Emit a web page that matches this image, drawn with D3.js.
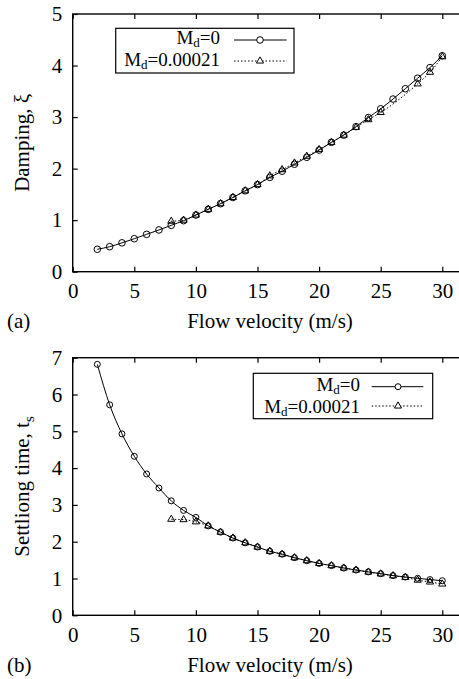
<!DOCTYPE html>
<html>
<head>
<meta charset="utf-8">
<script src="https://cdn.jsdelivr.net/npm/d3@7"></script>
<style>
  body { margin: 0; background: #fff; }
  svg { display: block; }
</style>
</head>
<body>
<svg id="chart"></svg>
<script>
// flow velocity (m/s) for the Md=0 runs
const velocity = [2, 3, 4, 5, 6, 7, 8, 9, 10, 11, 12, 13, 14, 15, 16, 17, 18, 19, 20, 21, 22, 23, 24, 25, 26, 27, 28, 29, 30];
const dampingMd0 = [0.435, 0.485, 0.56, 0.64, 0.725, 0.81, 0.90, 0.99, 1.10, 1.21, 1.32, 1.44, 1.57, 1.69, 1.83, 1.95, 2.085, 2.22, 2.36, 2.51, 2.65, 2.815, 2.99, 3.16, 3.35, 3.55, 3.755, 3.96, 4.19];
const settlingMd0 = [6.82, 5.72, 4.93, 4.32, 3.84, 3.46, 3.11, 2.85, 2.66, 2.43, 2.26, 2.10, 1.97, 1.855, 1.74, 1.66, 1.565, 1.485, 1.41, 1.35, 1.285, 1.23, 1.18, 1.13, 1.08, 1.04, 1.005, 0.97, 0.94];

// Md=0.00021 runs
const velocityDampMd1 = [8, 9, 10, 11, 12, 13, 14, 15, 16, 17, 18, 19, 20, 21, 22, 23, 24, 25, 28, 29, 30];
const dampingMd1 = [0.98, 1.0, 1.1, 1.21, 1.32, 1.44, 1.57, 1.69, 1.86, 1.98, 2.11, 2.24, 2.37, 2.51, 2.65, 2.80, 2.95, 3.09, 3.645, 3.87, 4.17];
const velocitySetMd1 = [8, 9, 10, 11, 12, 13, 14, 15, 16, 17, 18, 19, 20, 21, 22, 23, 24, 25, 26, 27, 28, 29, 30];
const settlingMd1 = [2.61, 2.60, 2.54, 2.43, 2.26, 2.10, 1.97, 1.855, 1.74, 1.66, 1.565, 1.485, 1.41, 1.35, 1.285, 1.23, 1.175, 1.125, 1.075, 1.03, 0.955, 0.905, 0.85];

const xTicks = [0, 5, 10, 15, 20, 25, 30];
const dampingTicks = [0, 1, 2, 3, 4, 5];
const settlingTicks = [0, 1, 2, 3, 4, 5, 6, 7];
const legendZero = {main: "M", sub: "d", rest: "=0"};
const legendOne = {main: "M", sub: "d", rest: "=0.00021"};

const font = "'Liberation Serif', 'Times New Roman', serif";
const style = ({
    width: 459,
    height: 679,
    left: 72.7,
    right: 467,
    axisEnd: 442.3,
    tick: 5,
    frame: 1.4,
    fontSize: 21,
    legendSize: 19
});

const panels = [
    {
        top: 14, bottom: 271.7, yMax: 5, yTicks: dampingTicks,
        md0: velocity.map((v, i) => ({x: v, y: dampingMd0[i]})),
        md1: velocityDampMd1.map((v, i) => ({x: v, y: dampingMd1[i]})),
        ylabel: {main: "Damping, ξ", sub: ""},
        tag: "(a)", labelY: 328, r: 3.3,
        legend: {x0: 115.7, x1: 294, y0: 28.3, y1: 73, textEnd: 220, base: [44, 66], lineX: [234, 286.7], lineY: [40, 61], mark: 260}
    },
    {
        top: 357.7, bottom: 615.3, yMax: 7, yTicks: settlingTicks,
        md0: velocity.map((v, i) => ({x: v, y: settlingMd0[i]})),
        md1: velocitySetMd1.map((v, i) => ({x: v, y: settlingMd1[i]})),
        ylabel: {main: "Settliong time, t", sub: "s"},
        tag: "(b)", labelY: 672, r: 3,
        legend: {x0: 253.3, x1: 432.7, y0: 373.3, y1: 418.7, textEnd: 360, base: [391.2, 413.2], lineX: [371.7, 423.3], lineY: [386.7, 406], mark: 398}
    }
];

const svg = d3.select("#chart")
    .attr("width", style.width)
    .attr("height", style.height)
    .attr("viewBox", [0, 0, style.width, style.height]);

const triangle = d3.symbol(d3.symbolTriangle).size(22);
const fmt = d3.format("d");

const mLabel = (g, parts, x, y, size) => {
    const t = g.append("text")
        .attr("x", x)
        .attr("y", y)
        .attr("text-anchor", "end")
        .style("font", `${size}px ${font}`)
        .style("fill", "#000");
    t.append("tspan").text(parts.main);
    t.append("tspan").attr("dy", 3).style("font-size", `${Math.round(size * 0.7)}px`).text(parts.sub);
    t.append("tspan").attr("dy", -3).text(parts.rest);
};

panels.forEach(p => {
    const x = d3.scaleLinear().domain([0, 30]).range([style.left, style.axisEnd]);
    const y = d3.scaleLinear().domain([0, p.yMax]).range([p.bottom, p.top]);
    const g = svg.append("g");

    // axes, ticks pointing inward
    g.append("g")
        .attr("transform", `translate(0,${p.bottom})`)
        .call(d3.axisBottom(x).tickValues(xTicks).tickFormat(fmt).tickSizeInner(-style.tick).tickSizeOuter(0).tickPadding(11.4))
        .call(a => a.select(".domain").remove());
    g.append("g")
        .attr("transform", `translate(0,${p.top})`)
        .call(d3.axisTop(x).tickValues(xTicks).tickSizeInner(-style.tick).tickSizeOuter(0).tickFormat(""))
        .call(a => a.select(".domain").remove());
    g.append("g")
        .attr("transform", `translate(${style.left},0)`)
        .call(d3.axisLeft(y).tickValues(p.yTicks).tickFormat(fmt).tickSizeInner(-style.tick).tickSizeOuter(0).tickPadding(10.5))
        .call(a => a.select(".domain").remove());
    g.selectAll(".tick line").attr("stroke", "#000").attr("stroke-width", 1.2);
    g.selectAll(".tick text")
        .style("font", `${style.fontSize}px ${font}`)
        .style("fill", "#000");

    g.append("rect")
        .attr("x", style.left)
        .attr("y", p.top)
        .attr("width", style.right - style.left)
        .attr("height", p.bottom - p.top)
        .style("fill", "none")
        .style("stroke", "#000")
        .style("stroke-width", style.frame);

    const line = d3.line()
        .curve(d3.curveMonotoneX)
        .x(d => x(d.x))
        .y(d => y(d.y));

    g.append("path")
        .datum(p.md0)
        .attr("d", line)
        .style("fill", "none")
        .style("stroke", "#000")
        .style("stroke-width", 1);
    g.append("path")
        .datum(p.md1)
        .attr("d", line)
        .style("fill", "none")
        .style("stroke", "#000")
        .style("stroke-width", 1)
        .style("stroke-dasharray", "1.5,2");

    g.selectAll(".c")
        .data(p.md0)
        .join("circle")
        .attr("cx", d => x(d.x))
        .attr("cy", d => y(d.y))
        .attr("r", p.r)
        .style("fill", "none")
        .style("stroke", "#000")
        .style("stroke-width", 1);
    g.selectAll(".t")
        .data(p.md1)
        .join("path")
        .attr("d", triangle)
        .attr("transform", d => `translate(${x(d.x)},${y(d.y)})`)
        .style("fill", "none")
        .style("stroke", "#000")
        .style("stroke-width", 1);

    // legend
    const L = p.legend;
    const lg = g.append("g");
    lg.append("rect")
        .attr("x", L.x0).attr("y", L.y0)
        .attr("width", L.x1 - L.x0).attr("height", L.y1 - L.y0)
        .style("fill", "#fff")
        .style("stroke", "#000")
        .style("stroke-width", 1.2);
    mLabel(lg, legendZero, L.textEnd, L.base[0], style.legendSize);
    mLabel(lg, legendOne, L.textEnd, L.base[1], style.legendSize);
    lg.append("line")
        .attr("x1", L.lineX[0]).attr("x2", L.lineX[1])
        .attr("y1", L.lineY[0]).attr("y2", L.lineY[0])
        .style("stroke", "#000").style("stroke-width", 1);
    lg.append("circle")
        .attr("cx", L.mark).attr("cy", L.lineY[0]).attr("r", p.r)
        .style("fill", "#fff").style("stroke", "#000");
    lg.append("line")
        .attr("x1", L.lineX[0]).attr("x2", L.lineX[1])
        .attr("y1", L.lineY[1]).attr("y2", L.lineY[1])
        .style("stroke", "#000").style("stroke-width", 1)
        .style("stroke-dasharray", "1.5,2");
    lg.append("path")
        .attr("d", triangle)
        .attr("transform", `translate(${L.mark},${L.lineY[1]})`)
        .style("fill", "#fff").style("stroke", "#000");

    // axis titles
    const yl = g.append("text")
        .attr("transform", `translate(29,${(p.top + p.bottom) / 2}) rotate(-90)`)
        .attr("text-anchor", "middle")
        .style("font", `${style.fontSize}px ${font}`)
        .style("fill", "#000");
    yl.append("tspan").text(p.ylabel.main);
    if (p.ylabel.sub) yl.append("tspan").attr("dy", 5).style("font-size", "15px").text(p.ylabel.sub);

    g.append("text")
        .attr("x", 270)
        .attr("y", p.labelY)
        .attr("text-anchor", "middle")
        .style("font", `${style.fontSize}px ${font}`)
        .style("fill", "#000")
        .text("Flow velocity (m/s)");
    g.append("text")
        .attr("x", 7)
        .attr("y", p.labelY)
        .style("font", `${style.fontSize}px ${font}`)
        .style("fill", "#000")
        .text(p.tag);
});
</script>
</body>
</html>
